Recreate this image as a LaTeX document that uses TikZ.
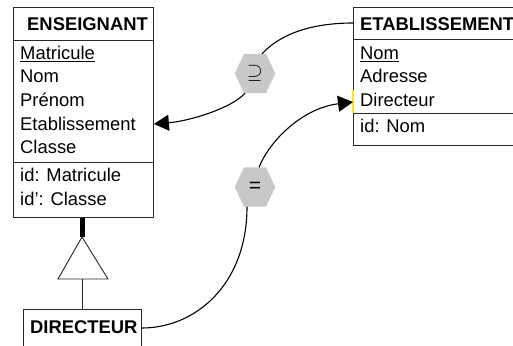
\documentclass[tikz,border=0pt]{standalone}
\usepackage{fontspec}
\setmainfont{Liberation Sans}
\usetikzlibrary{arrows.meta,backgrounds,calc}

\definecolor{hexgray}{RGB}{200,200,200}
\definecolor{boxline}{RGB}{40,40,40}

\tikzset{
  entity/.style={draw=boxline, line width=0.9pt, anchor=north west, inner sep=0pt, rectangle},
  attr/.style={anchor=base west, inner sep=0pt, font=\fontsize{18.4}{20}\selectfont},
  title/.style={anchor=base west, inner sep=0pt, font=\fontsize{18.4}{20}\selectfont\bfseries},
  hexnode/.style={minimum width=40pt, minimum height=39pt, inner sep=0pt, font=\fontsize{21}{22}\selectfont},
  hexfill/.style={fill=hexgray},
  link/.style={line width=1.1pt, black},
  linkarrow/.style={link, -{Triangle[length=15pt,width=16pt]}},
  isathick/.style={line width=5pt, black},
  isathin/.style={line width=0.9pt, boxline},
}

\begin{document}
\begin{tikzpicture}[x=1pt, y=-1pt]
\clip (0,0) rectangle (513,345);

% ---- entity ENSEIGNANT ----
\node[entity, minimum width=140pt, minimum height=210pt] (ens) at (13,7) {};
\draw[boxline, line width=0.9pt] ([yshift=-33pt]ens.north west) -- ([yshift=-33pt]ens.north east);
\draw[boxline, line width=0.9pt] ([yshift=-155pt]ens.north west) -- ([yshift=-155pt]ens.north east);
\node[title] (ensT) at (27,30.7) {ENSEIGNANT};
\node[attr] (ensA1) at (20,59.3) {\underline{Matricule}};
\node[attr] (ensA2) at (20,82.7) {Nom};
\node[attr] (ensA3) at (20,106.7) {Prénom};
\node[attr] (ensA4) at (20,130) {Etablissement};
\node[attr] (ensA5) at (20,153.3) {Classe};
\node[attr] (ensK1) at (20,181.5) {id: Matricule};
\node[attr] (ensK2) at (20,205) {id': Classe};

% ---- entity ETABLISSEMENT ----
\node[entity, minimum width=200pt, minimum height=138pt] (etab) at (353,7) {};
\draw[boxline, line width=0.9pt] ([yshift=-32.5pt]etab.north west) -- ([yshift=-32.5pt]etab.north east);
\draw[boxline, line width=0.9pt] ([yshift=-106pt]etab.north west) -- ([yshift=-106pt]etab.north east);
\node[title] (etabT) at (360,30.7) {ETABLISSEMENT};
\node[attr] (etabA1) at (360,59.3) {\underline{Nom}};
\node[attr] (etabA2) at (360,82.7) {Adresse};
\node[attr] (etabA3) at (360,106) {Directeur};
\node[attr] (etabK1) at (360,132.7) {id: Nom};
% highlighted attribute edge
\draw[yellow!90!orange, line width=1.2pt] ([yshift=-83pt]etab.north west) -- ([yshift=-106pt]etab.north west);

% ---- entity DIRECTEUR ----
\node[entity, minimum width=118pt, minimum height=60pt] (dir) at (23,309) {};
\node[title] (dirT) at (30,333) {DIRECTEUR};

% ---- is-a triangle ----
\coordinate (isaTop) at (82,237);
\coordinate (isaL) at (58,279);
\coordinate (isaR) at (108,279);
\coordinate (isaBase) at (82,279);
\draw[isathin] (isaTop) -- (isaR) -- (isaL) -- cycle;
\draw[isathick] (ens.south -| isaTop) -- (isaTop);
\draw[isathin] (isaBase) -- (dir.north -| isaBase);

% ---- inclusion constraint ----
\node[hexnode] (h1) at (255,73.5) {$\supseteq$};
% ---- equality constraint ----
\node[hexnode] (h2) at (255,187) {=};

\begin{scope}[on background layer]
  \fill[white] (0,0) rectangle (513,345);
  \foreach \h in {h1,h2} {
    \fill[hexfill] (\h.west) -- ([xshift=-11pt]\h.north) -- ([xshift=11pt]\h.north)
      -- (\h.east) -- ([xshift=11pt]\h.south) -- ([xshift=-11pt]\h.south) -- cycle;
  }
\end{scope}

% ---- connectors ----
\draw[link] ([xshift=7pt]h1.north) .. controls (283,31) and (318,23) .. ([yshift=-16pt]etab.north west);
\draw[linkarrow] ([xshift=-10pt]h1.south) .. controls (232,108) and (190,121) .. ([yshift=-117pt]ens.north east);
\draw[linkarrow] ([xshift=4pt]h2.north) .. controls (270,140) and (303,108) .. ([yshift=-95pt]etab.north west);
\draw[link] ([xshift=-8pt]h2.south) .. controls (247,285) and (195,328) .. ([yshift=-19pt]dir.north east);
\end{tikzpicture}
\end{document}
